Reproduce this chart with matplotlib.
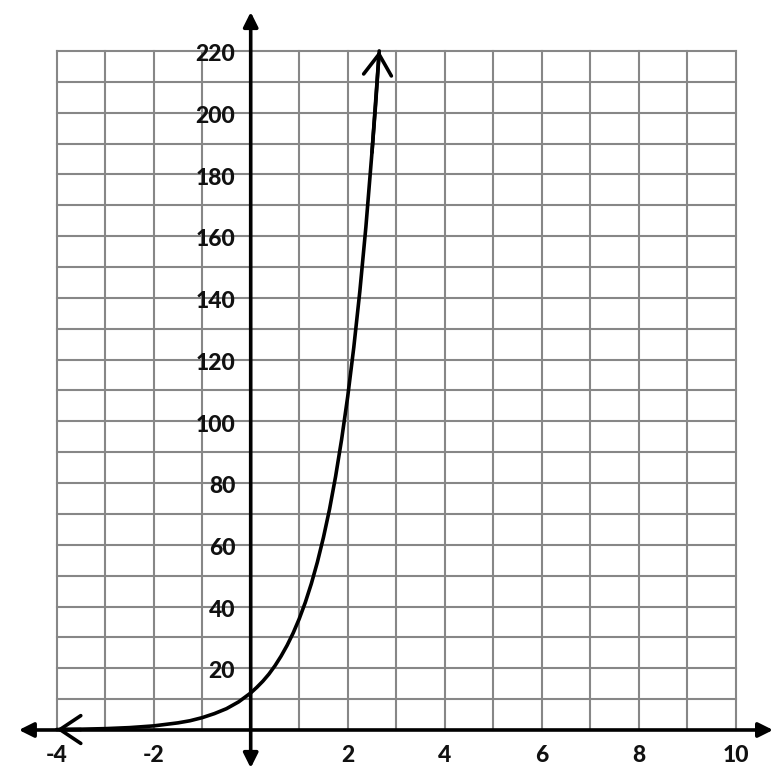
import matplotlib
matplotlib.use('Agg')
import matplotlib.pyplot as plt

# curve values
curve_x = [-4, -3.5, -3, -2.5, -2, -1.5, -1.25, -1, -0.75, -0.5, -0.25, 0,
           0.125, 0.25, 0.375, 0.5, 0.625, 0.75, 0.875, 1,
           1.125, 1.25, 1.375, 1.5, 1.625, 1.75, 1.875, 2,
           2.125, 2.25, 2.375, 2.5, 2.575, 2.65]
curve_y = [0.15, 0.26, 0.44, 0.77, 1.33, 2.31, 3.0, 4.0, 5.3, 6.9, 9.1, 12.0,
           13.8, 15.8, 18.1, 20.8, 23.9, 27.4, 31.4, 36.0,
           41.3, 47.4, 54.4, 62.4, 71.5, 82.1, 94.2, 108.0,
           123.9, 142.1, 163.0, 187.1, 202.5, 220.0]

x_ticks = [-4, -2, 2, 4, 6, 8, 10]
y_ticks = [20, 40, 60, 80, 100, 120, 140, 160, 180, 200, 220]

x_min, x_max = -4, 10
y_min, y_max = 0, 220

fig = plt.figure(figsize=(7.8, 7.82), dpi=100)
fig.set_facecolor('white')
ax = fig.add_axes([0, 0, 1, 1])
ax.set_xlim(-5.169, 10.913)
ax.set_ylim(-16.85, 236.5)
ax.axis('off')

# grid
grid_c = '#878787'
for gx in range(x_min, x_max + 1):
    ax.plot([gx, gx], [y_min, y_max], color=grid_c, lw=1.5, zorder=1)
for gy in range(y_min, y_max + 1, 10):
    ax.plot([x_min, x_max], [gy, gy], color=grid_c, lw=1.5, zorder=1)

# axes with filled arrowheads
axis_kw = dict(arrowstyle='<|-|>', mutation_scale=22, lw=2.6, color='black',
               shrinkA=0, shrinkB=0)
ax.annotate('', xy=(0, 232.6), xytext=(0, -12.3), arrowprops=axis_kw, zorder=3)
ax.annotate('', xy=(10.77, 0), xytext=(-4.78, 0), arrowprops=axis_kw, zorder=3)

# curve
ax.plot(curve_x, curve_y, color='black', lw=2.6, zorder=4, solid_capstyle='round')
head_kw = dict(arrowstyle='->, head_length=0.75, head_width=0.5', mutation_scale=20,
               lw=2.6, color='black', shrinkA=0, shrinkB=0)
ax.annotate('', xy=(curve_x[-1], curve_y[-1]), xytext=(curve_x[-3], curve_y[-3]),
            arrowprops=head_kw, zorder=4)
ax.annotate('', xy=(curve_x[0], curve_y[0]), xytext=(curve_x[1], curve_y[0]),
            arrowprops=head_kw, zorder=4)

# tick labels
font = dict(family=['Lato', 'DejaVu Sans'], fontsize=16.5, fontweight='black', color='#111111')
for t in x_ticks:
    ax.text(t, -8.4, f'{t}', ha='center', va='center', zorder=5, **font)
for t in y_ticks:
    ax.text(-0.32, t - 1.2, f'{t}', ha='right', va='center', zorder=5, **font)

fig.savefig('out.png', dpi=100, facecolor='white')
